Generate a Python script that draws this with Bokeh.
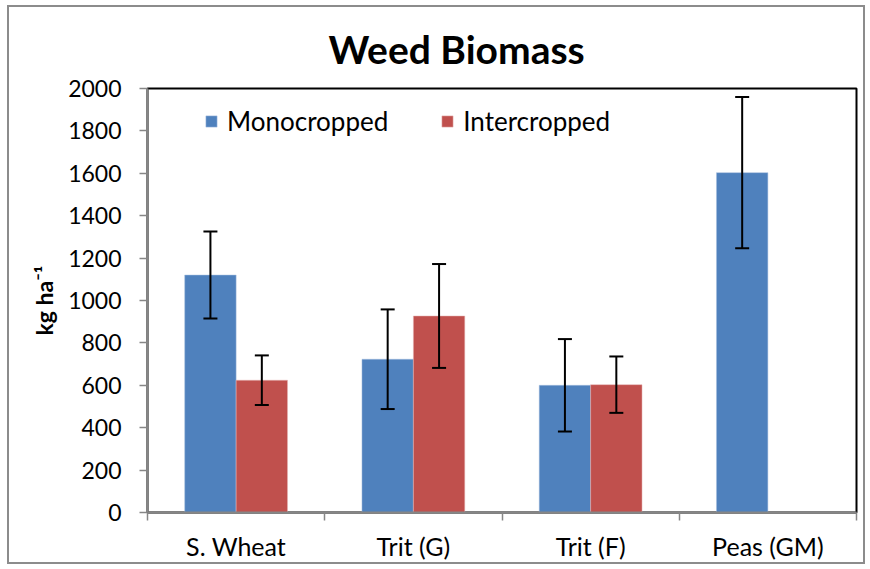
from bokeh.plotting import figure
from bokeh.models import (ColumnDataSource, FactorRange, Range1d, LinearAxis, FixedTicker,
                          Whisker, TeeHead, Legend, LegendItem, CategoricalAxis,
                          CustomLabelingPolicy)
from bokeh.transform import dodge
from bokeh.embed import file_html
from bokeh.resources import INLINE

categories = ["S. Wheat", "Trit (G)", "Trit (F)", "Peas (GM)"]
mono = [1120, 723, 600, 1603]
mono_err = [205, 235, 218, 357]
inter = [624, 927, 603, None]
inter_err = [117, 245, 133, None]
y_ticks = [0, 200, 400, 600, 800, 1000, 1200, 1400, 1600, 1800, 2000]

BLUE = "#4F81BD"
RED = "#C0504D"
GRAY = "#868686"
FONT = "Lato"

mono_src = ColumnDataSource(dict(
    cat=categories, val=mono,
    upper=[v + e for v, e in zip(mono, mono_err)],
    lower=[v - e for v, e in zip(mono, mono_err)]))
ic = [(c, v, e) for c, v, e in zip(categories, inter, inter_err) if v is not None]
inter_src = ColumnDataSource(dict(
    cat=[t[0] for t in ic], val=[t[1] for t in ic],
    upper=[t[1] + t[2] for t in ic],
    lower=[t[1] - t[2] for t in ic]))

p = figure(x_range=FactorRange(factors=categories), y_range=Range1d(0, 2000),
           width=858, height=559, output_backend="svg", toolbar_location=None,
           x_axis_location=None, min_border_left=138, min_border_right=11,
           min_border_top=81, min_border_bottom=54)
p.styles = {"border": "2px solid #8c8c8c", "margin": "5px 0 0 7px"}
p.background_fill_color = "white"
p.border_fill_color = "white"
p.outline_line_color = "black"
p.outline_line_width = 2
p.xgrid.visible = False
p.ygrid.visible = False

p.title.text = "Weed Biomass"
p.title.align = "left"
p.title.offset = 181
p.title.text_font = FONT
p.title.text_font_size = "39px"
p.title.text_font_style = "bold"
p.title.text_color = "black"
p.title.standoff = 33

bw = 0.29
r1 = p.vbar(x=dodge("cat", -bw / 2, range=p.x_range), top="val", width=bw,
            source=mono_src, fill_color=BLUE, line_color="#A7BFDE", line_width=0.5)
r2 = p.vbar(x=dodge("cat", bw / 2, range=p.x_range), top="val", width=bw,
            source=inter_src, fill_color=RED, line_color="#E6B9B8", line_width=0.5)

for src, off in ((mono_src, -bw / 2), (inter_src, bw / 2)):
    w = Whisker(base=dodge("cat", off, range=p.x_range), upper="upper", lower="lower",
                source=src, line_color="black", line_width=2, level="overlay",
                upper_head=TeeHead(size=14, line_width=2, line_color="black"),
                lower_head=TeeHead(size=14, line_width=2, line_color="black"))
    p.add_layout(w)

# y axis
ya = p.yaxis[0]
ya.ticker = FixedTicker(ticks=y_ticks)
ya.axis_line_color = GRAY
ya.axis_line_width = 2
ya.major_tick_line_color = GRAY
ya.major_tick_line_width = 1.5
ya.major_tick_out = 8
ya.major_tick_in = 0
ya.minor_tick_line_color = None
ya.major_label_text_font = FONT
ya.major_label_text_font_size = "23px"
ya.major_label_text_color = "black"
ya.major_label_standoff = 18
ya.axis_label = "kg ha\u207b\u00b9"
ya.axis_label_text_font = FONT
ya.axis_label_text_font_size = "23px"
ya.axis_label_text_font_style = "bold"
ya.axis_label_text_color = "black"
ya.axis_label_standoff = 7

# x axis: tick marks at category boundaries (synthetic coordinates 0..N), no labels
no_labels = CustomLabelingPolicy(code="return new indices.constructor(indices.size, 0)")
tick_axis = LinearAxis(ticker=FixedTicker(ticks=list(range(len(categories) + 1))),
                       major_label_policy=no_labels,
                       major_label_text_font_size="1px", major_label_standoff=0,
                       axis_line_color=GRAY, axis_line_width=2,
                       major_tick_line_color=GRAY, major_tick_line_width=1.5,
                       major_tick_out=8, major_tick_in=0, minor_tick_line_color=None)
p.add_layout(tick_axis, "below")
cat_axis = CategoricalAxis(axis_line_color=None, major_tick_line_color=None,
                           minor_tick_line_color=None, major_label_standoff=0,
                           major_label_text_font=FONT, major_label_text_font_size="25px",
                           major_label_text_color="black")
p.add_layout(cat_axis, "below")

legend = Legend(items=[LegendItem(label="Monocropped", renderers=[r1]),
                       LegendItem(label="Intercropped", renderers=[r2])],
                orientation="horizontal", location=(57, 375),
                border_line_color=None, background_fill_alpha=0,
                padding=0, margin=0, spacing=52, glyph_width=14, glyph_height=14,
                label_standoff=9, label_text_font=FONT, label_text_font_size="26px",
                label_text_color="black")
p.add_layout(legend, "center")

open("out.html", "w").write(file_html(p, INLINE))
